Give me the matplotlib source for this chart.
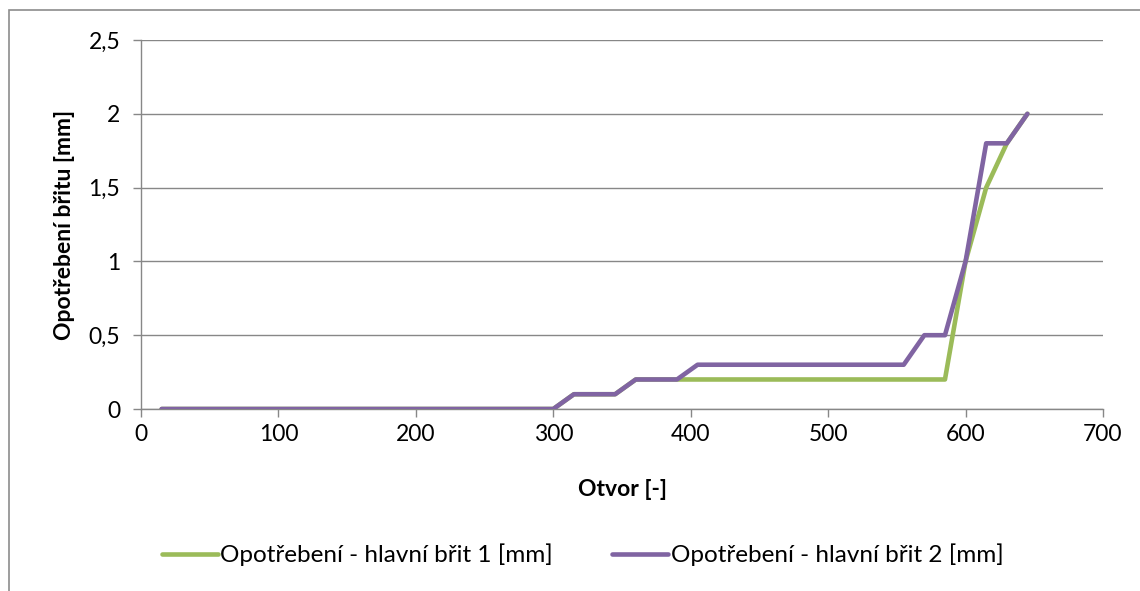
import matplotlib
matplotlib.use("Agg")
import matplotlib.pyplot as plt
from matplotlib.patches import Rectangle
from matplotlib.ticker import FuncFormatter, MultipleLocator

# Hole number (every 15th hole measured)
otvor = [15, 30, 45, 60, 75, 90, 105, 120, 135, 150, 165, 180, 195, 210, 225,
         240, 255, 270, 285, 300, 315, 330, 345, 360, 375, 390, 405, 420, 435,
         450, 465, 480, 495, 510, 525, 540, 555, 570, 585, 600, 615, 630, 645]

# Wear of main cutting edge 1 [mm]
brit1 = [0, 0, 0, 0, 0, 0, 0, 0, 0, 0, 0, 0, 0, 0, 0,
         0, 0, 0, 0, 0, 0.1, 0.1, 0.1, 0.2, 0.2, 0.2, 0.2, 0.2, 0.2,
         0.2, 0.2, 0.2, 0.2, 0.2, 0.2, 0.2, 0.2, 0.2, 0.2, 1.0, 1.5, 1.8, 2.0]

# Wear of main cutting edge 2 [mm]
brit2 = [0, 0, 0, 0, 0, 0, 0, 0, 0, 0, 0, 0, 0, 0, 0,
         0, 0, 0, 0, 0, 0.1, 0.1, 0.1, 0.2, 0.2, 0.2, 0.3, 0.3, 0.3,
         0.3, 0.3, 0.3, 0.3, 0.3, 0.3, 0.3, 0.3, 0.5, 0.5, 1.0, 1.8, 1.8, 2.0]

labels = ["Opotřebení - hlavní břit 1 [mm]", "Opotřebení - hlavní břit 2 [mm]"]

plt.rcParams['font.family'] = ['Lato', 'DejaVu Sans']

W, H = 1140, 591
fig = plt.figure(figsize=(W / 100, H / 100), dpi=100)

# outer chart frame
fig.patches.append(Rectangle((9 / W, -0.1), 1.2, 1 - 10 / H + 0.1,
                             transform=fig.transFigure, fill=False,
                             edgecolor="#8c8c8c", linewidth=1.2, zorder=0))

ax = fig.add_axes([141 / W, 1 - 409 / H, (1103 - 141) / W, (409 - 40) / H])

grid_c = "#878787"
ax.plot(otvor, brit1, color="#9bbb59", linewidth=3.3, label=labels[0],
        solid_joinstyle="round", solid_capstyle="round", zorder=3)
ax.plot(otvor, brit2, color="#8064a2", linewidth=3.3, label=labels[1],
        solid_joinstyle="round", solid_capstyle="round", zorder=4)

ax.set_xlim(0, 700)
ax.set_ylim(0, 2.5)
ax.xaxis.set_major_locator(MultipleLocator(100))
ax.yaxis.set_major_locator(MultipleLocator(0.5))
ax.yaxis.set_major_formatter(FuncFormatter(lambda v, p: f"{v:g}".replace(".", ",")))

ax.grid(axis="y", color=grid_c, linewidth=1.0)
ax.set_axisbelow(True)
for s in ["top", "right"]:
    ax.spines[s].set_visible(False)
for s in ["left", "bottom"]:
    ax.spines[s].set_color(grid_c)
    ax.spines[s].set_linewidth(1.0)
ax.tick_params(axis="both", direction="out", length=6, width=1.0, color=grid_c,
               labelsize=16.5, labelcolor="black")
ax.tick_params(axis="x", pad=5)
ax.tick_params(axis="y", pad=9)

ax.set_xlabel("Otvor [-]", fontsize=16.5, fontweight="bold", labelpad=24)
ax.set_ylabel("Opotřebení břitu [mm]", fontsize=16.5, fontweight="bold", labelpad=10)

fig.legend(loc="center", bbox_to_anchor=(0.511, 1 - 555 / H), ncol=2,
           frameon=False, fontsize=17.5, handlelength=2.3, handletextpad=0.1,
           columnspacing=2.45)

fig.savefig("out.png", dpi=100)
